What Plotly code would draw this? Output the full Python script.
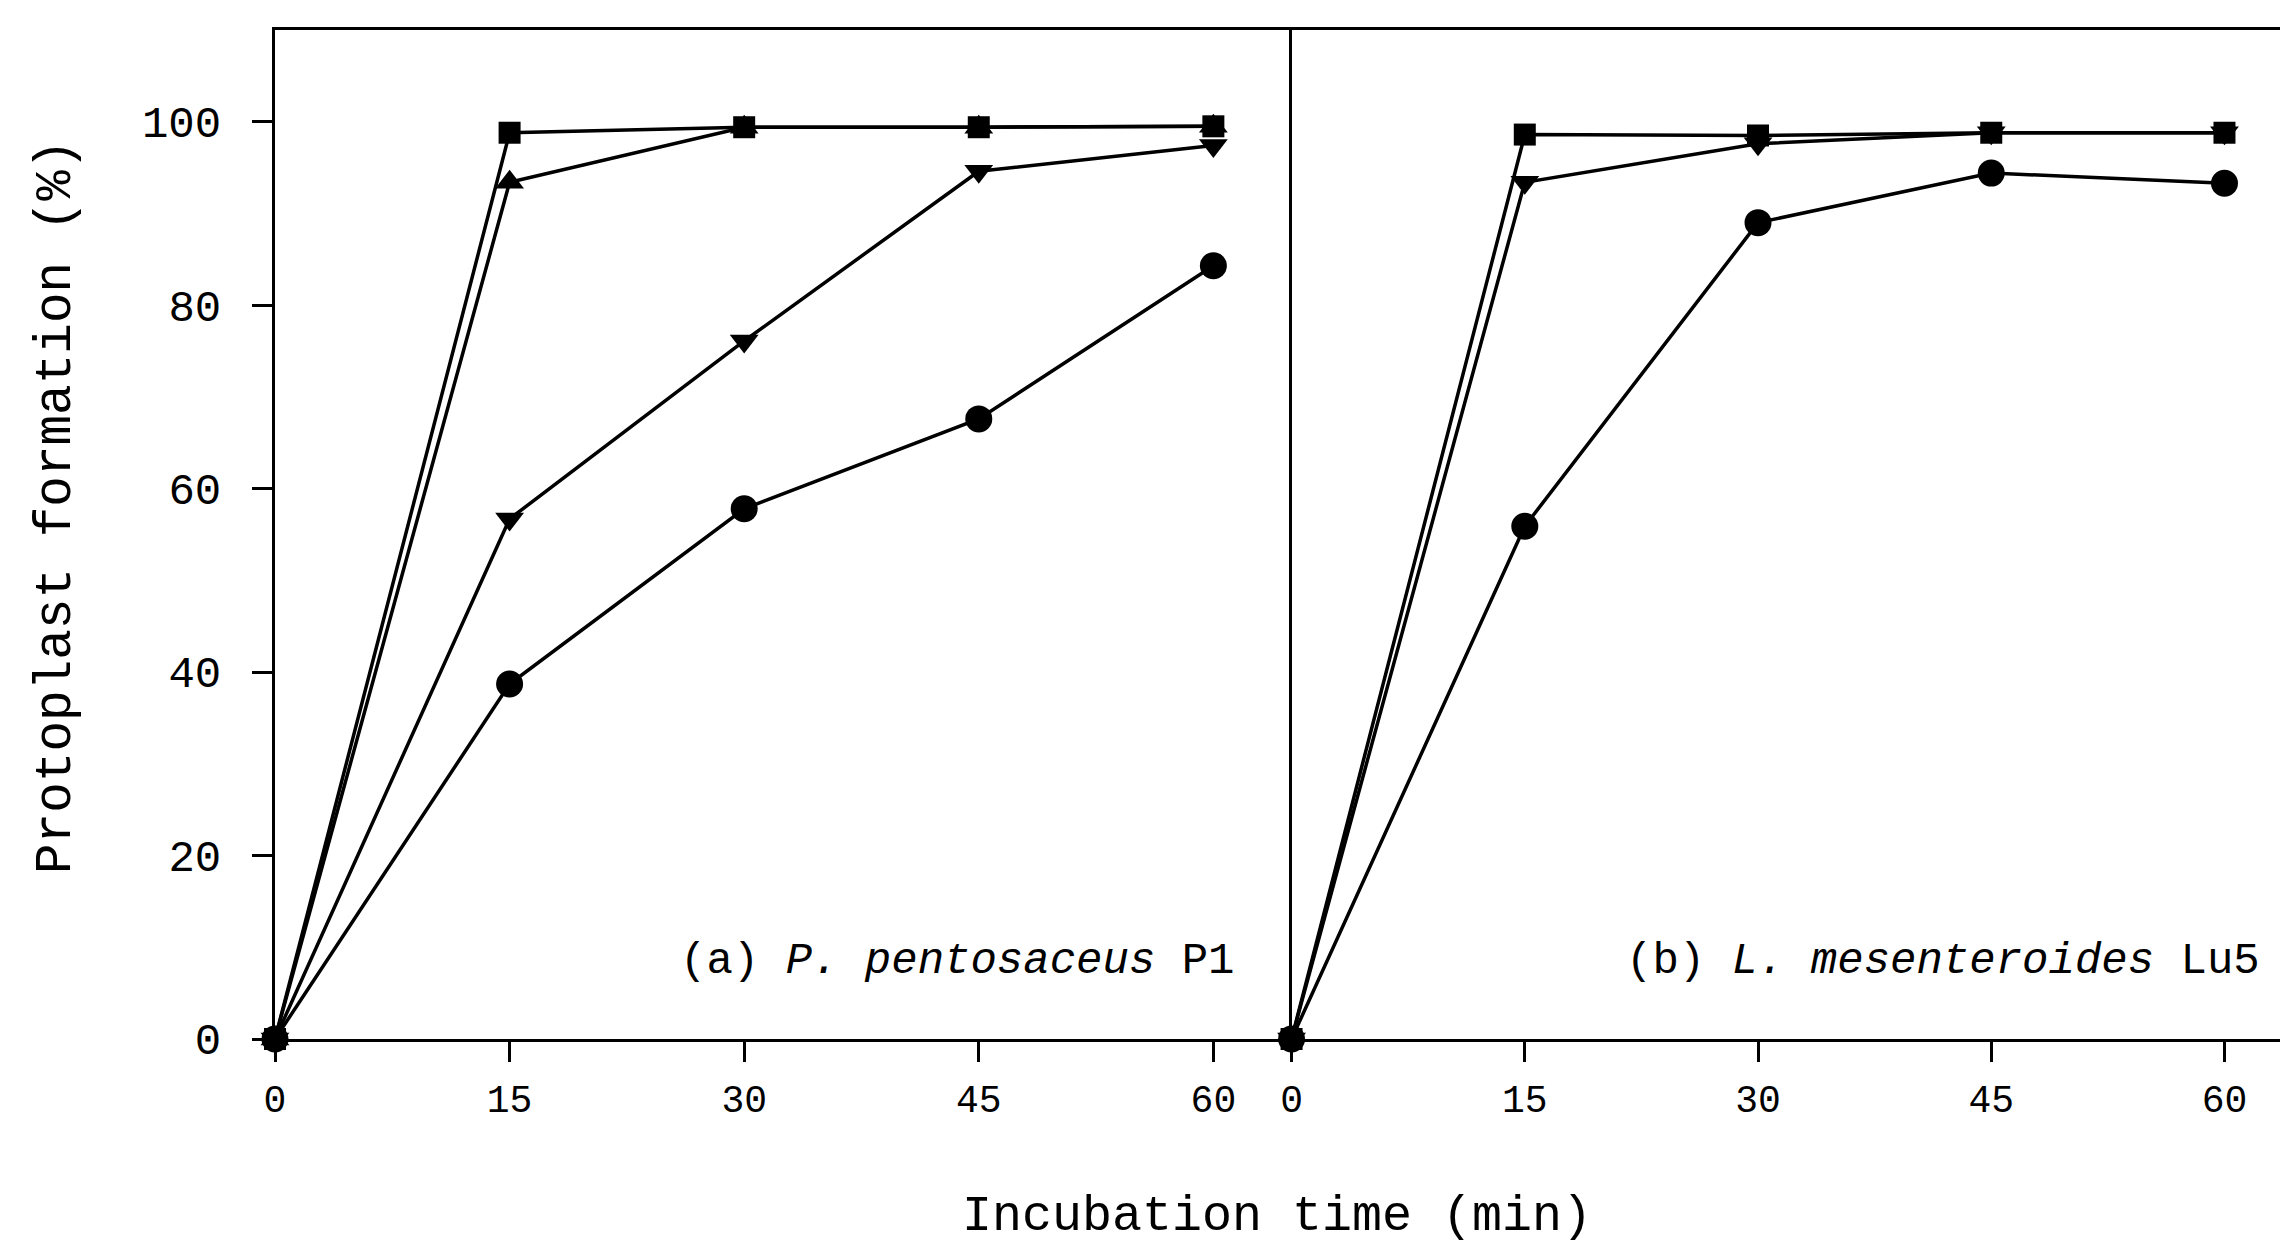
import plotly.graph_objects as go
from plotly.subplots import make_subplots

time_min = [0, 15, 30, 45, 60]

# Panel (a) P. pentosaceus P1
a_square = [0, 98.8, 99.4, 99.4, 99.5]
a_tri_up = [0, 93.4, 99.4, 99.4, 99.5]
a_tri_down = [0, 56.7, 76.1, 94.6, 97.4]
a_circle = [0, 38.7, 57.8, 67.6, 84.3]

# Panel (b) L. mesenteroides Lu5
b_square = [0, 98.6, 98.5, 98.8, 98.8]
b_tri_down = [0, 93.4, 97.6, 98.8, 98.8]
b_circle = [0, 55.9, 89.0, 94.4, 93.3]

y_ticks = [0, 20, 40, 60, 80, 100]
x_ticks = [0, 15, 30, 45, 60]

MONO = "Liberation Mono"

fig = make_subplots(rows=1, cols=2, shared_yaxes=True, horizontal_spacing=0)

def add(y, symbol, size, col):
    fig.add_trace(go.Scatter(
        x=time_min, y=y, mode="lines+markers",
        line=dict(color="black", width=3.5),
        marker=dict(symbol=symbol, size=size, color="black"),
        cliponaxis=False, showlegend=False), row=1, col=col)

add(a_tri_up, "triangle-up", 25, 1)
add(a_tri_down, "triangle-down", 25, 1)
add(a_square, "square", 22, 1)
add(a_circle, "circle", 27, 1)

add(b_tri_down, "triangle-down", 25, 2)
add(b_square, "square", 22, 2)
add(b_circle, "circle", 27, 2)

axis_common = dict(showgrid=False, zeroline=False, showline=True, linecolor="black",
                   linewidth=3, ticks="outside", ticklen=20, tickwidth=3, tickcolor="black")

fig.update_xaxes(**axis_common, range=[0, 65], tickvals=x_ticks,
                 tickfont=dict(family=MONO, size=38, color="black"),
                 ticklabelstandoff=4, mirror=True, row=1, col=1)
fig.update_xaxes(**axis_common, range=[0, 64.6], tickvals=x_ticks,
                 tickfont=dict(family=MONO, size=38, color="black"),
                 ticklabelstandoff=4, mirror=True, row=1, col=2)
fig.update_yaxes(**axis_common, range=[0, 110], tickvals=y_ticks,
                 tickfont=dict(family=MONO, size=44, color="black"),
                 ticklabelstandoff=22, row=1, col=1)
fig.update_yaxes(showgrid=False, zeroline=False, showline=True, linecolor="black",
                 linewidth=3, ticks="", showticklabels=False, range=[0, 110], row=1, col=2)

fig.update_layout(
    width=2288, height=1243,
    margin=dict(l=267, r=0, t=22, b=212),
    plot_bgcolor="white", paper_bgcolor="white",
    xaxis=dict(domain=[0, 0.503]),
    xaxis2=dict(domain=[0.503, 1.0]),
)

fig.add_annotation(x=61.5, y=8.5, xref="x", yref="y", xanchor="right", yanchor="middle",
                   text="(a) <i>P. pentosaceus</i> P1", showarrow=False,
                   font=dict(family=MONO, size=44, color="black"))
fig.add_annotation(x=62.4, y=8.5, xref="x2", yref="y2", xanchor="right", yanchor="middle",
                   text="(b) <i>L. mesenteroides</i> Lu5", showarrow=False,
                   font=dict(family=MONO, size=44, color="black"))

fig.add_annotation(x=-0.108, y=0.528, xref="paper", yref="paper", xanchor="center", yanchor="middle",
                   text="Protoplast formation (%)", textangle=-90, showarrow=False,
                   font=dict(family=MONO, size=51, color="black"))
fig.add_annotation(x=0.496, y=-0.176, xref="paper", yref="paper", xanchor="center", yanchor="middle",
                   text="Incubation time (min)", showarrow=False,
                   font=dict(family=MONO, size=50, color="black"))

fig.write_html("out.html")
